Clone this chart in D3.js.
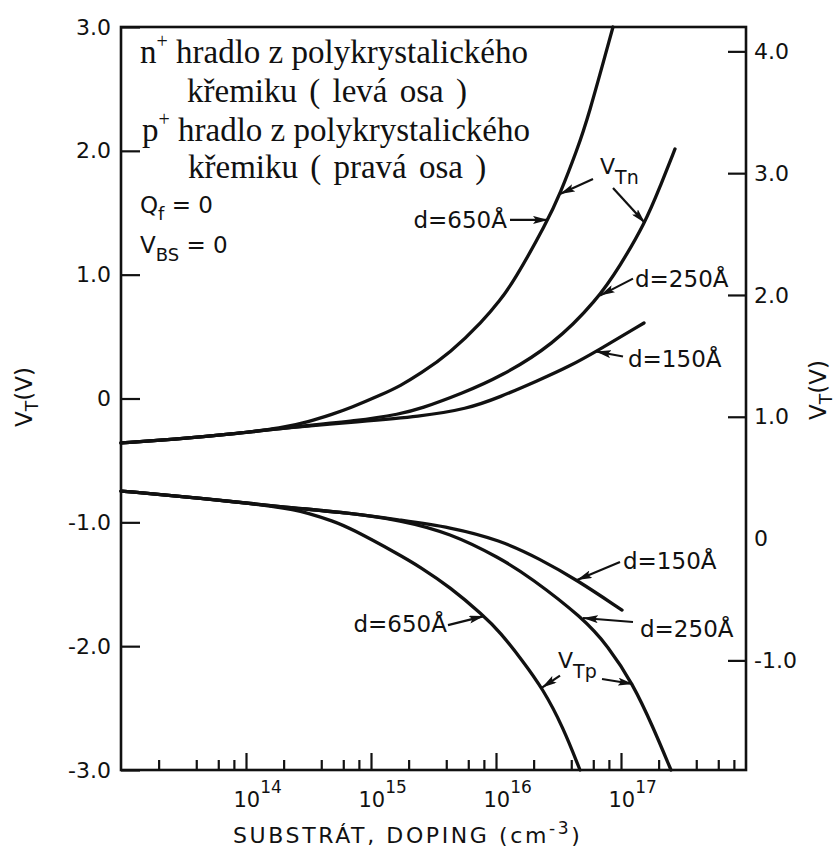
<!DOCTYPE html>
<html>
<head>
<meta charset="utf-8">
<script src="https://cdn.jsdelivr.net/npm/d3@7"></script>
<style>
  html, body { margin: 0; background: #fff; }
  svg { display: block; }
</style>
</head>
<body>
<script>
// Threshold voltage vs. substrate doping for n+ and p+ polysilicon gates.
// Doping is stored as the exponent e of N = 10^e cm^-3.

// n+ poly gate, V_Tn (left axis)
const vtn650N = [13.0, 13.416, 13.896, 14.296, 14.496, 14.696, 14.832, 15.096, 15.232, 15.392, 15.632, 15.896, 16.032, 16.136, 16.408, 16.512, 16.648, 16.736, 16.936];
const vtn650V = [-0.359, -0.331, -0.287, -0.238, -0.190, -0.125, -0.077, 0.036, 0.101, 0.198, 0.367, 0.626, 0.795, 0.933, 1.425, 1.651, 2.007, 2.265, 3.0];
const vtn250N = [13.0, 13.416, 13.896, 14.296, 14.912, 15.232, 15.392, 15.736, 16.032, 16.456, 16.808, 16.992, 17.192, 17.312, 17.432];
const vtn250V = [-0.359, -0.331, -0.287, -0.238, -0.178, -0.125, -0.085, 0.044, 0.174, 0.432, 0.795, 1.070, 1.417, 1.708, 2.015];
const vtn150N = [13.0, 13.416, 13.896, 14.296, 14.912, 15.392, 15.768, 16.032, 16.328, 16.592, 16.808, 17.184];
const vtn150V = [-0.359, -0.331, -0.287, -0.238, -0.186, -0.145, -0.085, 0.012, 0.141, 0.262, 0.384, 0.610];

// p+ poly gate, V_Tp (right axis)
const vtp650N = [13.0, 13.632, 14.296, 14.496, 14.696, 14.832, 15.232, 15.392, 15.632, 15.896, 16.032, 16.208, 16.376, 16.536, 16.672];
const vtp650V = [0.390, 0.333, 0.259, 0.210, 0.144, 0.087, -0.135, -0.233, -0.398, -0.628, -0.767, -0.997, -1.235, -1.547, -1.900];
const vtp250N = [13.0, 13.632, 14.296, 14.832, 15.232, 15.632, 16.032, 16.272, 16.696, 16.896, 17.096, 17.256, 17.400];
const vtp250V = [0.390, 0.333, 0.259, 0.210, 0.152, 0.046, -0.160, -0.316, -0.652, -0.882, -1.194, -1.547, -1.900];
const vtp150N = [13.0, 13.632, 14.296, 14.832, 15.232, 15.632, 16.032, 16.352, 16.648, 17.008];
const vtp150V = [0.390, 0.333, 0.259, 0.210, 0.152, 0.095, -0.012, -0.168, -0.340, -0.587];

// Axis ticks
const leftTicks = [3, 2, 1, 0, -1, -2, -3];
const leftTickLabels = ["3.0", "2.0", "1.0", "0", "-1.0", "-2.0", "-3.0"];
const rightTicks = [4, 3, 2, 1, 0, -1];
const rightTickLabels = ["4.0", "3.0", "2.0", "1.0", "0", "-1.0"];
const decadeExponents = [14, 15, 16, 17];
const minorMultipliers = [2, 4, 6, 8];

const W = 838, H = 852;
const plot = { left: 121, right: 746, top: 27, bottom: 770 };
const INK = "#111";
const SANS = "'DejaVu Sans', sans-serif";
const SERIF = "'Liberation Serif', 'Times New Roman', serif";

const svg = d3.select("body").append("svg").attr("width", W).attr("height", H);

const x = d3.scaleLog().domain([1e13, 1e18]).range([plot.left, plot.right]);
const yL = d3.scaleLinear().domain([-3, 3]).range([plot.bottom, plot.top]);
const yR = d3.scaleLinear().domain([-1.9, 4.2]).range([plot.bottom, plot.top]);

const defs = svg.append("defs");
defs.append("marker")
  .attr("id", "head").attr("viewBox", "0 0 15 8")
  .attr("refX", 15).attr("refY", 4)
  .attr("markerWidth", 15).attr("markerHeight", 8)
  .attr("markerUnits", "userSpaceOnUse").attr("orient", "auto")
  .append("path").attr("d", "M0,0 L15,4 L0,8 L3,4 Z").attr("fill", INK);

// Frame
svg.append("rect")
  .attr("x", plot.left).attr("y", plot.top)
  .attr("width", plot.right - plot.left).attr("height", plot.bottom - plot.top)
  .attr("fill", "none").attr("stroke", INK).attr("stroke-width", 2.6);

// Left axis
const gL = svg.append("g").attr("transform", `translate(${plot.left},0)`)
  .call(d3.axisLeft(yL).tickValues(leftTicks).tickFormat((d, i) => leftTickLabels[i])
    .tickSize(-19).tickSizeOuter(0).tickPadding(10));
// Right axis (ticks point inward; the zero mark is label-only)
const gR = svg.append("g").attr("transform", `translate(${plot.right},0)`)
  .call(d3.axisRight(yR).tickValues(rightTicks).tickFormat((d, i) => rightTickLabels[i])
    .tickSize(-18).tickSizeOuter(0).tickPadding(8));
gR.selectAll(".tick").filter(d => d === 0).select("line").remove();

// Bottom axis: minor then major ticks
const minorValues = [];
for (let e = 13; e < 18; e++) minorMultipliers.forEach(m => minorValues.push(m * Math.pow(10, e)));
const gBm = svg.append("g").attr("transform", `translate(0,${plot.bottom})`)
  .call(d3.axisBottom(x).tickValues(minorValues).tickFormat("").tickSize(-10).tickSizeOuter(0));
const gB = svg.append("g").attr("transform", `translate(0,${plot.bottom})`)
  .call(d3.axisBottom(x).tickValues(decadeExponents.map(e => Math.pow(10, e)))
    .tickFormat("").tickSize(-17).tickSizeOuter(0));
gB.selectAll(".tick").each(function (d, i) {
  const t = d3.select(this).select("text")
    .attr("y", 37).attr("dy", null).attr("x", -13)
    .attr("text-anchor", "start").attr("font-size", 21);
  t.append("tspan").text("10");
  t.append("tspan").attr("dy", -14).attr("font-size", 17).text(decadeExponents[i]);
});

[gL, gR, gBm, gB].forEach(g => {
  g.select(".domain").remove();
  g.selectAll(".tick line").attr("stroke", INK).attr("stroke-width", 2.2);
  g.selectAll("text").attr("fill", INK).attr("font-family", SANS);
});
gL.selectAll(".tick text").attr("font-size", 22);
gR.selectAll(".tick text").attr("font-size", 22);

// Curves (B-spline through the sampled readings)
const series = {
  n650: { n: vtn650N, v: vtn650V, y: yL },
  n250: { n: vtn250N, v: vtn250V, y: yL },
  n150: { n: vtn150N, v: vtn150V, y: yL },
  p650: { n: vtp650N, v: vtp650V, y: yR },
  p250: { n: vtp250N, v: vtp250V, y: yR },
  p150: { n: vtp150N, v: vtp150V, y: yR }
};
const curves = svg.append("g").attr("fill", "none").attr("stroke", INK)
  .attr("stroke-width", 3.3).attr("stroke-linecap", "round").attr("stroke-linejoin", "round");
Object.values(series).forEach(s => {
  const line = d3.line().curve(d3.curveBasis)
    .x(d => x(Math.pow(10, d[0]))).y(d => s.y(d[1]));
  curves.append("path").attr("d", line(s.n.map((e, i) => [e, s.v[i]])));
});

// Point on a curve at a given doping exponent
function pointOn(s, e) {
  let i = d3.bisectRight(s.n, e) - 1;
  i = Math.max(0, Math.min(s.n.length - 2, i));
  const t = (e - s.n[i]) / (s.n[i + 1] - s.n[i]);
  const v = s.v[i] + t * (s.v[i + 1] - s.v[i]);
  return [x(Math.pow(10, e)), s.y(v)];
}

// Callouts: arrow to a curve, offset label
const callouts = [
  { s: "n650", e: 16.416, tail: [-38, 0], label: "d=650Å", at: [-41, 8], anchor: "end" },
  { s: "n250", e: 16.832, tail: [33, -17], label: "d=250Å", at: [35, -9], anchor: "start" },
  { s: "n150", e: 16.800, tail: [27, 5], label: "d=150Å", at: [32, 15], anchor: "start" },
  { s: "p150", e: 16.648, tail: [43, -18], label: "d=150Å", at: [46, -11], anchor: "start" },
  { s: "p250", e: 16.696, tail: [50, 4], label: "d=250Å", at: [57, 19], anchor: "start" },
  { s: "p650", e: 15.904, tail: [-36, 9], label: "d=650Å", at: [-37, 16], anchor: "end" },
  { s: "n650", e: 16.512, tail: [33, -15] },
  { s: "n250", e: 17.192, tail: [-32, -35] },
  { s: "p650", e: 16.368, tail: [18, -12] },
  { s: "p250", e: 17.096, tail: [-31, -5] }
];
const notes = svg.append("g").attr("font-family", SANS).attr("font-size", 23).attr("fill", INK);
callouts.forEach(c => {
  const [px, py] = pointOn(series[c.s], c.e);
  notes.append("line")
    .attr("x1", px + c.tail[0]).attr("y1", py + c.tail[1])
    .attr("x2", px).attr("y2", py)
    .attr("stroke", INK).attr("stroke-width", 2.2).attr("marker-end", "url(#head)");
  if (c.label) {
    notes.append("text").attr("x", px + c.at[0]).attr("y", py + c.at[1])
      .attr("text-anchor", c.anchor).text(c.label);
  }
});

// V_Tn / V_Tp labels, placed beside their arrow pairs
function subLabel(g, px, py, main, sub, size, subSize, drop) {
  const t = g.append("text").attr("x", px).attr("y", py).attr("font-size", size);
  t.append("tspan").text(main);
  t.append("tspan").attr("dy", drop).attr("font-size", subSize).text(sub);
  return t;
}
{
  const [ax, ay] = pointOn(series.n650, 16.512);
  subLabel(notes, ax + 40, ay - 20, "V", "Tn", 22, 19, 10);
  const [bx, by] = pointOn(series.p650, 16.368);
  subLabel(notes, bx + 16, by - 20, "V", "Tp", 22, 19, 10);
}

// Conditions
const cond = svg.append("g").attr("font-family", SANS).attr("fill", INK);
{
  const q = cond.append("text").attr("x", 140).attr("y", 213).attr("font-size", 23);
  q.append("tspan").text("Q");
  q.append("tspan").attr("dy", 7).attr("font-size", 18).text("f");
  q.append("tspan").attr("dy", -7).text(" = 0");
  const v = cond.append("text").attr("x", 140).attr("y", 253).attr("font-size", 23);
  v.append("tspan").text("V");
  v.append("tspan").attr("dy", 8).attr("font-size", 18).text("BS");
  v.append("tspan").attr("dy", -8).text(" = 0");
}

// Gate description block
const desc = svg.append("g").attr("font-family", SERIF).attr("font-size", 33).attr("fill", INK);
function gateLine(px, py, letter, rest) {
  const t = desc.append("text").attr("x", px).attr("y", py);
  t.append("tspan").text(letter);
  t.append("tspan").attr("dy", -15).attr("font-size", 20).text("+");
  t.append("tspan").attr("dy", 15).text(rest);
}
gateLine(140, 63, "n", " hradlo z polykrystalického");
desc.append("text").attr("x", 187).attr("y", 102).attr("word-spacing", 4).text("křemiku ( levá osa )");
gateLine(142, 141, "p", " hradlo z polykrystalického");
desc.append("text").attr("x", 188).attr("y", 178).attr("word-spacing", 4).text("křemiku ( pravá osa )");

// Axis titles
const titles = svg.append("g").attr("font-family", SANS).attr("fill", INK);
function vtTitle(tx, ty) {
  const t = titles.append("text").attr("transform", `translate(${tx},${ty}) rotate(-90)`)
    .attr("text-anchor", "middle").attr("font-size", 23);
  t.append("tspan").text("V");
  t.append("tspan").attr("dy", 6).attr("font-size", 17).text("T");
  t.append("tspan").attr("dy", -6).text("(V)");
}
vtTitle(32, 397);
vtTitle(826, 390);
{
  const t = titles.append("text").attr("x", 233).attr("y", 843)
    .attr("font-size", 22).attr("letter-spacing", 2.6);
  t.append("tspan").text("SUBSTRÁT, DOPING (cm");
  t.append("tspan").attr("dy", -9).attr("font-size", 17).text("-3");
  t.append("tspan").attr("dy", 9).text(")");
}
</script>
</body>
</html>
